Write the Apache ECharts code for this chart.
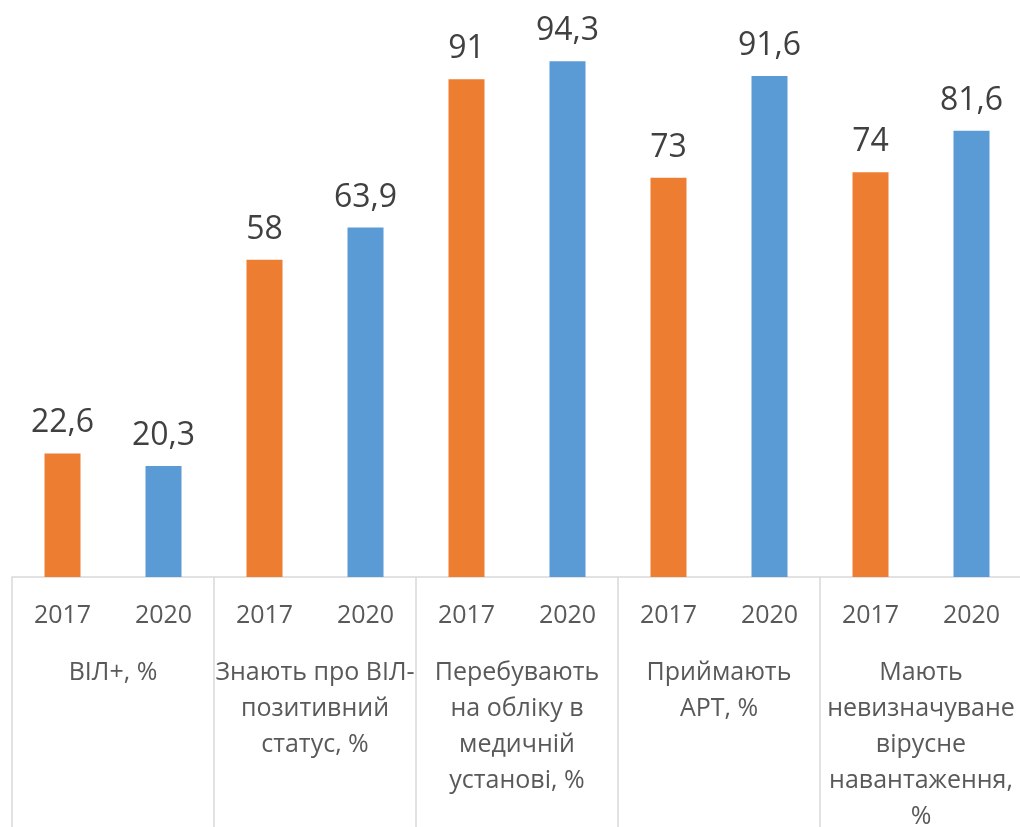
<!DOCTYPE html>
<html>
<head>
<meta charset="utf-8">
<script src="https://cdn.jsdelivr.net/npm/echarts@6/dist/echarts.min.js"></script>
<style>
html,body{margin:0;padding:0;background:#fff;}
#chart{width:1020px;height:827px;}
</style>
</head>
<body>
<div id="chart"></div>
<script>
const years = ['2017','2020','2017','2020','2017','2020','2017','2020','2017','2020'];
const groups = ['ВІЛ+, %', 'Знають про ВІЛ-\nпозитивний\nстатус, %', 'Перебувають\nна обліку в\nмедичній\nустанові, %', 'Приймають\nАРТ, %', 'Мають\nневизначуване\nвірусне\nнавантаження,\n%'];
const values = [22.6, 20.3, 58, 63.9, 91, 94.3, 73, 91.6, 74, 81.6];
const yearColors = {'2017': '#ED7D31', '2020': '#5B9BD5'};

const FONT = "'Open Sans', 'Noto Sans', sans-serif";
const chart = echarts.init(document.getElementById('chart'), null, {renderer: 'canvas'});
chart.setOption({
  animation: false,
  backgroundColor: '#ffffff',
  grid: {left: 12, width: 1010, top: 30, bottom: 250, containLabel: false, outerBoundsMode: 'none'},
  xAxis: [
    {
      type: 'category',
      data: years,
      position: 'bottom',
      axisLine: {show: true, lineStyle: {color: '#d9d9d9', width: 1.5}},
      axisTick: {show: false},
      axisLabel: {interval: 0, margin: 26, fontSize: 25, color: '#595959', fontFamily: FONT}
    },
    {
      type: 'category',
      data: groups,
      position: 'bottom',
      axisLine: {show: false},
      axisTick: {show: true, interval: 0, length: 260, lineStyle: {color: '#d9d9d9', width: 1.5}},
      axisLabel: {interval: 0, margin: 78, fontSize: 25, lineHeight: 36, color: '#595959', fontFamily: FONT, align: 'center', verticalAlign: 'top'}
    }
  ],
  yAxis: {
    type: 'value', min: 0, max: 100, show: false,
    splitLine: {show: false}
  },
  series: [{
    type: 'bar',
    xAxisIndex: 0,
    data: values.map((v, i) => ({value: v, itemStyle: {color: yearColors[years[i]]}})),
    barWidth: 36,
    label: {
      show: true,
      position: 'top',
      distance: 14,
      fontSize: 32,
      color: '#404040',
      fontFamily: FONT,
      formatter: p => String(p.value).replace('.', ',')
    }
  }]
});
</script>
</body>
</html>
